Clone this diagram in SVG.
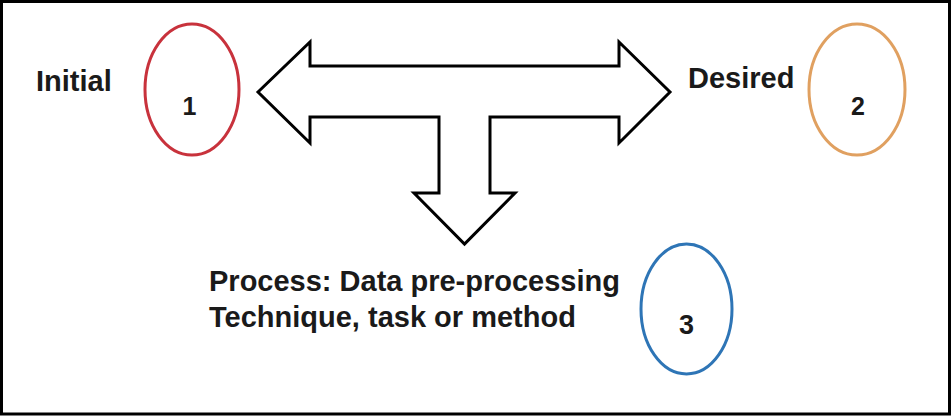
<svg xmlns="http://www.w3.org/2000/svg" width="952" height="416" viewBox="0 0 952 416">
<style>
.lbl{font-family:"Liberation Sans",Arial,sans-serif;font-weight:bold;font-size:29px;fill:#1a1a1a}
.num{font-family:"Liberation Sans",Arial,sans-serif;font-weight:bold;font-size:25px;fill:#1a1a1a;text-anchor:middle}
.ell{fill:none;stroke-width:3}
</style>
<rect x="0" y="0" width="952" height="416" fill="#ffffff"/>
<rect x="1.5" y="1.5" width="948" height="412.5" fill="none" stroke="#000" stroke-width="3"/>
<g id="connectors">
<polygon points="258,92 310,42 310,66 619,66 619,42 670,92 619,143 619,117 490,117 490,193 515,193 464.5,244 414,193 439,193 439,117 310,117 310,143" fill="#fff" stroke="#000" stroke-width="3" stroke-linejoin="miter"/>
</g>
<g id="node1">
<text class="lbl" x="36" y="91">Initial</text>
<ellipse class="ell" cx="192" cy="89.5" rx="47" ry="65.5" stroke="#c8323c"/>
<text class="num" x="189.5" y="115">1</text>
</g>
<g id="node2">
<text class="lbl" x="688" y="88">Desired</text>
<ellipse class="ell" cx="857" cy="89.5" rx="48" ry="65.5" stroke="#e0a060"/>
<text class="num" x="858" y="115">2</text>
</g>
<g id="node3">
<text class="lbl" x="209" y="291">Process: Data pre-processing</text>
<text class="lbl" x="209" y="327">Technique, task or method</text>
<ellipse class="ell" cx="686.5" cy="309" rx="45.5" ry="65" stroke="#2e75b6"/>
<text class="num" x="686.5" y="334" style="font-size:27px">3</text>
</g>
</svg>
